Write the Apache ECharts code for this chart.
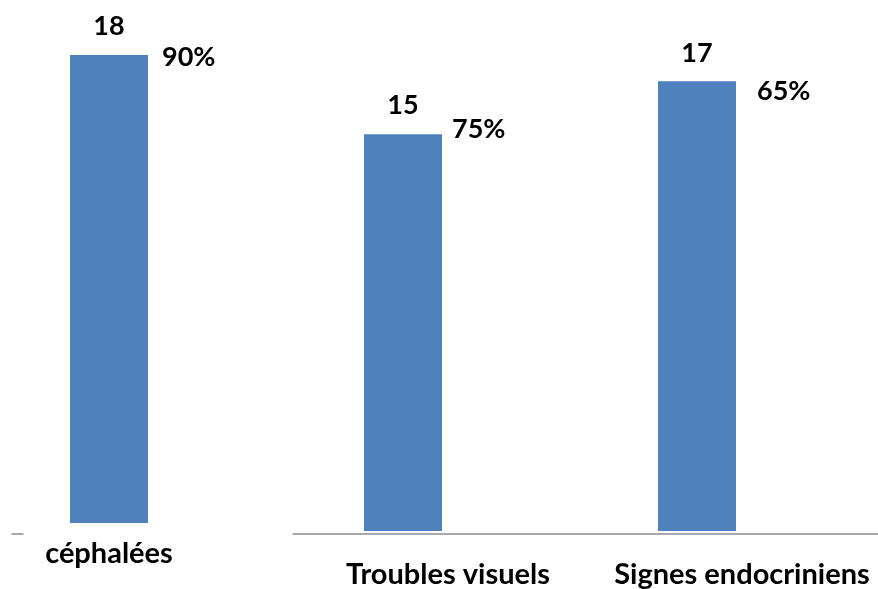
<!DOCTYPE html>
<html>
<head>
<meta charset="utf-8">
<script src="https://cdn.jsdelivr.net/npm/echarts@6/dist/echarts.min.js"></script>
<style>
  html, body { margin: 0; padding: 0; background: #fff; }
  #main { width: 878px; height: 589px; }
</style>
</head>
<body>
<div id="main"></div>
<script>
// données
var categories = ['céphalées', 'Troubles visuels', 'Signes endocriniens'];
var counts = [18, 15, 17];
var percents = [90, 75, 65];

// petits décalages des étiquettes % (comme sur la figure)
var pctNudge = [[14, 2], [10, -5], [21, 10]];

window.onload = function () {
  var myChart = echarts.init(document.getElementById('main'));
  var font = 'Lato';
  var blue = '#4F81BD';

  function pctData(from, to) {
    return percents.slice(from, to).map(function (p, i) {
      var n = pctNudge[from + i];
      return {
        value: counts[from + i],
        label: { offset: n },
        pct: p
      };
    });
  }

  var countLabel = {
    show: true, position: 'top', distance: 15,
    color: '#000', fontFamily: font, fontWeight: 'bold', fontSize: 27
  };
  var pctLabel = {
    show: true, position: ['100%', 0], align: 'left', verticalAlign: 'middle',
    color: '#000', fontFamily: font, fontWeight: 'bold', fontSize: 27,
    formatter: function (p) { return p.data.pct + '%'; }
  };

  var option = {
    animation: false,
    grid: [
      { left: 30, width: 158, top: 3, bottom: 66 },
      { left: 256, width: 588, top: 2, bottom: 55 },
      { left: 293, right: 0, top: 500, bottom: 55 },
      { left: 12, width: 11, top: 500, bottom: 55 }
    ],
    xAxis: [
      {
        gridIndex: 0, type: 'category', data: categories.slice(0, 1),
        axisLine: { show: false }, axisTick: { show: false },
        axisLabel: { interval: 0, margin: 16, color: '#000', fontFamily: font, fontWeight: 'bold', fontSize: 29 }
      },
      {
        gridIndex: 1, type: 'category', data: categories.slice(1),
        axisLine: { show: false }, axisTick: { show: false },
        axisLabel: {
          interval: 0, hideOverlap: false, margin: 29, padding: [0, 0, 0, 90],
          color: '#000', fontFamily: font, fontWeight: 'bold', fontSize: 29
        }
      },
      {
        gridIndex: 2, type: 'category', data: [''],
        axisLine: { show: true, lineStyle: { color: '#8c8c8c', width: 1.5 } },
        axisTick: { show: false }, axisLabel: { show: false }
      },
      {
        gridIndex: 3, type: 'category', data: [''],
        axisLine: { show: true, lineStyle: { color: '#8c8c8c', width: 1.5 } },
        axisTick: { show: false }, axisLabel: { show: false }
      }
    ],
    yAxis: [0, 1, 2, 3].map(function (g) {
      return { gridIndex: g, type: 'value', min: 0, max: 20, show: false, splitLine: { show: false } };
    }),
    series: [
      {
        type: 'bar', xAxisIndex: 0, yAxisIndex: 0, barWidth: 78,
        data: counts.slice(0, 1), itemStyle: { color: blue }, label: countLabel
      },
      {
        type: 'bar', xAxisIndex: 0, yAxisIndex: 0, barWidth: 78, barGap: '-100%',
        data: pctData(0, 1), itemStyle: { color: 'rgba(0,0,0,0)' }, label: pctLabel, silent: true
      },
      {
        type: 'bar', xAxisIndex: 1, yAxisIndex: 1, barWidth: 78,
        data: counts.slice(1), itemStyle: { color: blue }, label: countLabel
      },
      {
        type: 'bar', xAxisIndex: 1, yAxisIndex: 1, barWidth: 78, barGap: '-100%',
        data: pctData(1, 3), itemStyle: { color: 'rgba(0,0,0,0)' }, label: pctLabel, silent: true
      }
    ]
  };
  myChart.setOption(option);
};
</script>
</body>
</html>
